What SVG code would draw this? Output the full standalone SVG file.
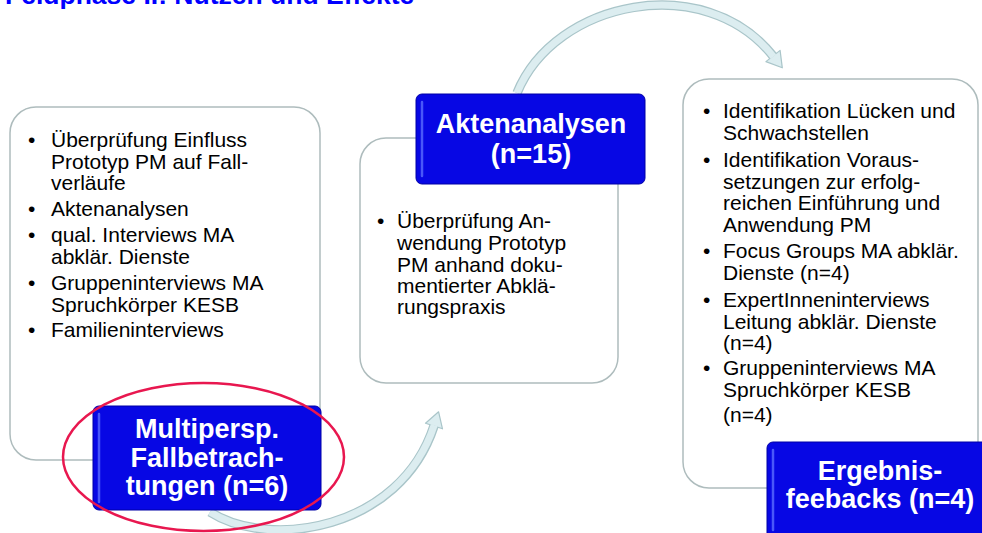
<svg xmlns="http://www.w3.org/2000/svg" width="982" height="533" viewBox="0 0 982 533">
<defs>
<style>
.title{font-family:"Liberation Sans",Arial,sans-serif;font-weight:bold;font-size:26.5px;fill:#0000ff}
.card{fill:#ffffff;stroke:#aebcbd;stroke-width:1.5}
.blue{fill:#0707e4;stroke:#0000a6;stroke-width:1}
.hl{stroke:#5a6cff;stroke-width:2.5;stroke-linecap:round;opacity:0.8}
.bt{font-family:"Liberation Sans",Arial,sans-serif;font-weight:bold;font-size:27px;fill:#ffffff;text-anchor:middle}
.tx{font-family:"Liberation Sans",Arial,sans-serif;font-size:21px;fill:#000000}
.bandout{fill:none;stroke:#a9c5c9;stroke-width:9.5}
.bandin{fill:none;stroke:#dcedf0;stroke-width:7}
.head{fill:#dcedf0;stroke:#a9c5c9;stroke-width:1.2;stroke-linejoin:round}
.ring{fill:none;stroke:#e8174f;stroke-width:2.5}
</style>
</defs>
<rect width="982" height="533" fill="#ffffff"/>
<text class="title" x="5" y="4">Feldphase II: Nutzen und Effekte</text>

<g id="connectors">
<g id="arrow1">
<path class="bandout" d="M210,512 C270,550 400,530 434,426"/>
<polygon class="head" points="425.5,423.2 438.6,411.8 442.5,428.8"/>
<path class="bandin" d="M210,512 C270,550 400,530 434.2,425.2"/>
</g>
<g id="arrow2">
<path class="bandout" d="M517,93 C555,0 705,-30 773,56"/>
<polygon class="head" points="765.9,61.6 782.3,67.8 780.1,50.4"/>
<path class="bandin" d="M517,93 C555,0 705,-30 773.4,56.6"/>
</g>
</g>

<g id="node-card1">
<rect class="card" x="10" y="107" width="310" height="353" rx="26"/>
<text class="tx" x="28" y="147">•</text>
<text class="tx" x="51" y="147">Überprüfung Einfluss</text>
<text class="tx" x="51" y="168.5">Prototyp PM auf Fall-</text>
<text class="tx" x="51" y="190">verläufe</text>
<text class="tx" x="28" y="216">•</text>
<text class="tx" x="51" y="216">Aktenanalysen</text>
<text class="tx" x="28" y="242">•</text>
<text class="tx" x="51" y="242">qual. Interviews MA</text>
<text class="tx" x="51" y="264">abklär. Dienste</text>
<text class="tx" x="28" y="290">•</text>
<text class="tx" x="51" y="290">Gruppeninterviews MA</text>
<text class="tx" x="51" y="312">Spruchkörper KESB</text>
<text class="tx" x="28" y="337">•</text>
<text class="tx" x="51" y="337">Familieninterviews</text>
</g>

<g id="node-card2">
<rect class="card" x="360" y="138" width="258" height="245" rx="26"/>
<text class="tx" x="377" y="228">•</text>
<text class="tx" x="397" y="228">Überprüfung An-</text>
<text class="tx" x="397" y="250">wendung Prototyp</text>
<text class="tx" x="397" y="272">PM anhand doku-</text>
<text class="tx" x="397" y="293">mentierter Abklä-</text>
<text class="tx" x="397" y="314">rungspraxis</text>
</g>

<g id="node-card3">
<rect class="card" x="683" y="79" width="295" height="409" rx="26"/>
<text class="tx" x="703" y="118">•</text>
<text class="tx" x="723" y="118">Identifikation Lücken und</text>
<text class="tx" x="723" y="140">Schwachstellen</text>
<text class="tx" x="703" y="167">•</text>
<text class="tx" x="723" y="167">Identifikation Voraus-</text>
<text class="tx" x="723" y="188.5">setzungen zur erfolg-</text>
<text class="tx" x="723" y="210">reichen Einführung und</text>
<text class="tx" x="723" y="232">Anwendung PM</text>
<text class="tx" x="703" y="258">•</text>
<text class="tx" x="723" y="258">Focus Groups MA abklär.</text>
<text class="tx" x="723" y="280">Dienste (n=4)</text>
<text class="tx" x="703" y="307">•</text>
<text class="tx" x="723" y="307">ExpertInneninterviews</text>
<text class="tx" x="723" y="328.5">Leitung abklär. Dienste</text>
<text class="tx" x="723" y="350">(n=4)</text>
<text class="tx" x="703" y="375">•</text>
<text class="tx" x="723" y="375">Gruppeninterviews MA</text>
<text class="tx" x="723" y="397">Spruchkörper KESB</text>
<text class="tx" x="723" y="422">(n=4)</text>
</g>

<g id="node-blue1">
<rect class="blue" x="93" y="406" width="228" height="104" rx="6"/>
<line class="hl" x1="99" y1="414" x2="99" y2="502"/>
<text class="bt" x="207" y="438">Multipersp.</text>
<text class="bt" x="207" y="467">Fallbetrach-</text>
<text class="bt" x="207" y="495">tungen (n=6)</text>
</g>

<g id="node-blue2">
<rect class="blue" x="416" y="94" width="229" height="90" rx="6"/>
<line class="hl" x1="422" y1="102" x2="422" y2="176"/>
<text class="bt" x="531" y="133">Aktenanalysen</text>
<text class="bt" x="531" y="163">(n=15)</text>
</g>

<g id="node-blue3">
<rect class="blue" x="767" y="442" width="228" height="100" rx="6"/>
<line class="hl" x1="773" y1="450" x2="773" y2="530"/>
<text class="bt" x="880" y="480">Ergebnis-</text>
<text class="bt" x="880" y="508">feebacks (n=4)</text>
</g>

<g id="highlight-ring">
<ellipse class="ring" cx="203.5" cy="457" rx="140.5" ry="74"/>
</g>
</svg>
